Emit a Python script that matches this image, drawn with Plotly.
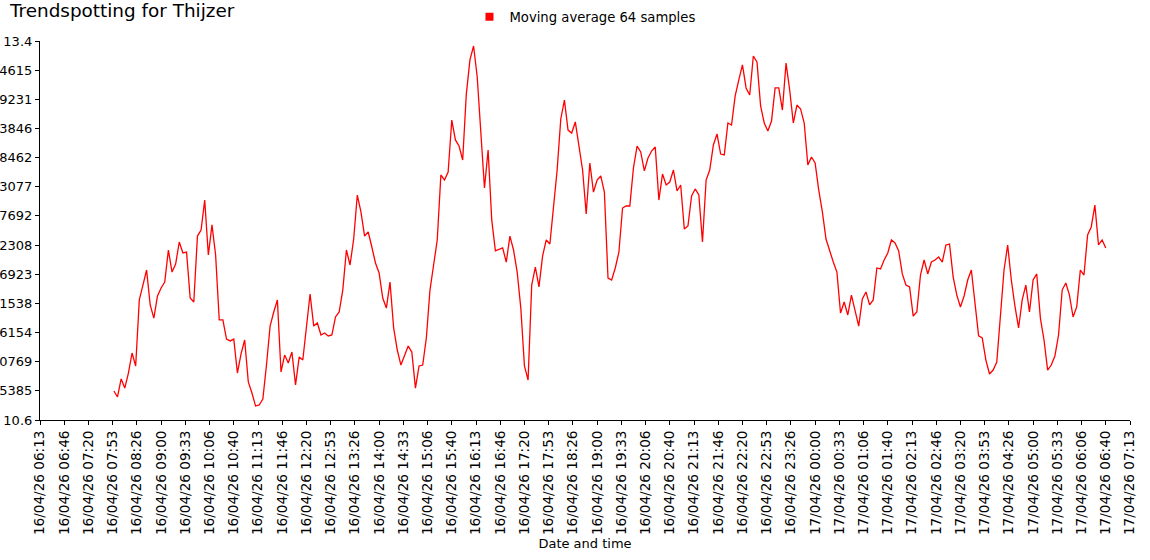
import pandas as pd
import plotly.graph_objects as go

# ---- data ----
series_name = "Moving average 64 samples"
start_time = "2026-04-16 07:55"   # first sample
sample_step = "5min"               # regular sampling of the moving average

values = [
    10.814, 10.770, 10.903, 10.836, 10.947, 11.095, 10.999, 11.487, 11.597, 11.708,
    11.450, 11.353, 11.516, 11.575, 11.619, 11.856, 11.693, 11.752, 11.915, 11.834,
    11.841, 11.501, 11.472, 11.959, 12.004, 12.225, 11.819, 12.041, 11.819, 11.339,
    11.339, 11.198, 11.184, 11.198, 10.947, 11.088, 11.191, 10.881, 10.799, 10.703,
    10.711, 10.755, 11.006, 11.294, 11.398, 11.487, 10.955, 11.080, 11.021, 11.102,
    10.859, 11.065, 11.043, 11.265, 11.531, 11.294, 11.317, 11.228, 11.243, 11.221,
    11.228, 11.361, 11.398, 11.560, 11.856, 11.745, 11.937, 12.262, 12.137, 11.959,
    11.989, 11.878, 11.760, 11.686, 11.501, 11.427, 11.619, 11.280, 11.117, 11.006,
    11.080, 11.147, 11.102, 10.836, 10.999, 11.006, 11.206, 11.560, 11.745, 11.930,
    12.410, 12.373, 12.432, 12.816, 12.669, 12.624, 12.521, 13.008, 13.260, 13.363,
    13.134, 12.691, 12.314, 12.595, 12.078, 11.849, 11.863, 11.871, 11.767, 11.959,
    11.856, 11.693, 11.427, 10.999, 10.895, 11.597, 11.730, 11.583, 11.812, 11.930,
    11.900, 12.166, 12.447, 12.824, 12.964, 12.742, 12.720, 12.802, 12.632, 12.447,
    12.122, 12.499, 12.284, 12.373, 12.403, 12.284, 11.649, 11.634, 11.723, 11.841,
    12.166, 12.181, 12.181, 12.462, 12.624, 12.580, 12.440, 12.536, 12.587, 12.617,
    12.225, 12.417, 12.336, 12.358, 12.447, 12.292, 12.336, 12.011, 12.033, 12.255,
    12.307, 12.262, 11.915, 12.373, 12.447, 12.632, 12.713, 12.565, 12.558, 12.794,
    12.779, 12.994, 13.112, 13.223, 13.053, 13.001, 13.289, 13.245, 12.920, 12.794,
    12.735, 12.809, 13.053, 13.053, 12.890, 13.237, 13.038, 12.794, 12.927, 12.898,
    12.794, 12.484, 12.543, 12.499, 12.299, 12.137, 11.937, 11.849, 11.767, 11.693,
    11.390, 11.472, 11.376, 11.523, 11.413, 11.294, 11.494, 11.546, 11.450, 11.487,
    11.723, 11.716, 11.782, 11.834, 11.930, 11.908, 11.849, 11.679, 11.597, 11.583,
    11.368, 11.398, 11.671, 11.782, 11.679, 11.767, 11.782, 11.804, 11.767, 11.893,
    11.900, 11.656, 11.523, 11.435, 11.516, 11.634, 11.708, 11.464, 11.221, 11.206,
    11.043, 10.940, 10.969, 11.028, 11.376, 11.708, 11.893, 11.634, 11.442, 11.280,
    11.487, 11.597, 11.398, 11.634, 11.679, 11.353, 11.191, 10.969, 11.006, 11.073,
    11.228, 11.560, 11.612, 11.523, 11.361, 11.435, 11.708, 11.671, 11.967, 12.026,
    12.188, 11.893, 11.930, 11.871,
]

x_tick_labels = [
    "16/04/26 06:13", "16/04/26 06:46", "16/04/26 07:20", "16/04/26 07:53",
    "16/04/26 08:26", "16/04/26 09:00", "16/04/26 09:33", "16/04/26 10:06",
    "16/04/26 10:40", "16/04/26 11:13", "16/04/26 11:46", "16/04/26 12:20",
    "16/04/26 12:53", "16/04/26 13:26", "16/04/26 14:00", "16/04/26 14:33",
    "16/04/26 15:06", "16/04/26 15:40", "16/04/26 16:13", "16/04/26 16:46",
    "16/04/26 17:20", "16/04/26 17:53", "16/04/26 18:26", "16/04/26 19:00",
    "16/04/26 19:33", "16/04/26 20:06", "16/04/26 20:40", "16/04/26 21:13",
    "16/04/26 21:46", "16/04/26 22:20", "16/04/26 22:53", "16/04/26 23:26",
    "17/04/26 00:00", "17/04/26 00:33", "17/04/26 01:06", "17/04/26 01:40",
    "17/04/26 02:13", "17/04/26 02:46", "17/04/26 03:20", "17/04/26 03:53",
    "17/04/26 04:26", "17/04/26 05:00", "17/04/26 05:33", "17/04/26 06:06",
    "17/04/26 06:40", "17/04/26 07:13",
]
x_range = ["2026-04-16 06:13:20", "2026-04-17 07:13:20"]
x_tick_step = "2000s"

y_tick_values = [10.6, 10.815385, 11.030769, 11.246154, 11.461538, 11.676923, 11.892308,
                 12.107692, 12.323077, 12.538462, 12.753846, 12.969231, 13.184615, 13.4]
y_tick_labels = ["10.6", "5385", "0769", "6154", "1538", "6923", "2308",
                 "7692", "3077", "8462", "3846", "9231", "4615", "13.4"]

# ---- build ----
times = pd.date_range(start_time, periods=len(values), freq=sample_step)
tick_times = pd.date_range(x_range[0], periods=len(x_tick_labels), freq=x_tick_step)

FONT = "DejaVu Sans, Verdana, sans-serif"

fig = go.Figure()
fig.add_trace(go.Scatter(
    x=times, y=values, mode="lines", name=series_name,
    line=dict(color="#ff0000", width=1.3), showlegend=False,
))
fig.add_trace(go.Scatter(
    x=[None], y=[None], mode="markers", name=series_name,
    marker=dict(symbol="square", size=8, color="#ff0000"), showlegend=True,
))

fig.update_layout(
    width=1150, height=560,
    margin=dict(l=40, r=20, t=41, b=140, autoexpand=False),
    paper_bgcolor="white", plot_bgcolor="white",
    font=dict(family=FONT, color="#000000", size=13),
    title=dict(text="Trendspotting for Thijzer", x=10 / 1150, xref="container", xanchor="left",
               y=1 - 4.5 / 560, yref="container", yanchor="top",
               font=dict(size=18.4, color="#000000", family=FONT)),
    legend=dict(orientation="h", x=0.394, xanchor="left", y=1.104, yanchor="top",
                font=dict(size=13.2, color="#000000"), bgcolor="rgba(0,0,0,0)",
                itemwidth=30),
    showlegend=True,
)
fig.update_xaxes(
    range=x_range, tickmode="array", tickvals=tick_times, ticktext=x_tick_labels,
    tickangle=-90, tickfont=dict(size=13.6, color="#000000"),
    showline=True, linecolor="#000000", linewidth=1.2,
    ticks="outside", ticklen=4, tickcolor="#000000",
    showgrid=False, zeroline=False,
    title=dict(text="Date and time", font=dict(size=13, color="#000000"), standoff=4),
)
fig.update_yaxes(
    range=[10.6, 13.4], tickmode="array", tickvals=y_tick_values, ticktext=y_tick_labels,
    tickfont=dict(size=13, color="#000000"),
    showline=True, linecolor="#000000", linewidth=1.2,
    ticks="outside", ticklen=4, tickcolor="#000000",
    showgrid=False, zeroline=False,
)

fig.write_html(
    "out.html",
    config={"displayModeBar": False},
    post_script="document.body.style.margin='0px'; document.body.style.overflow='hidden';",
)
